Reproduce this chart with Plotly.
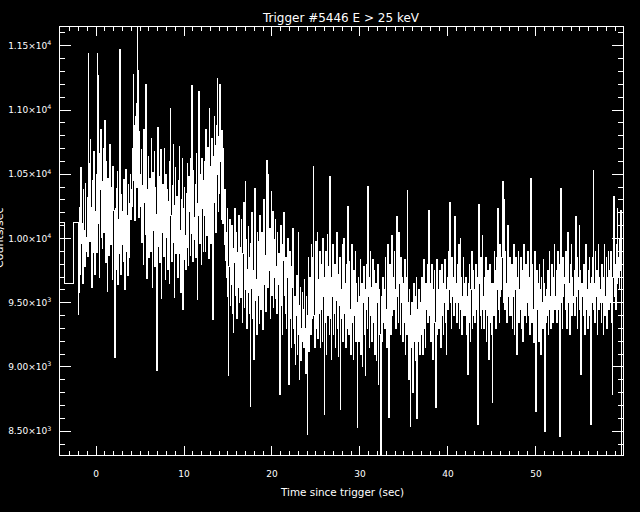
import plotly.graph_objects as go

# ---- data -------------------------------------------------------------
title_text = "Trigger #5446 E > 25 keV"
x_title = "Time since trigger (sec)"
y_title = "Counts/sec"

# pre-trigger (1.024 s) bins: start times and rates
pre_start = [-4.608, -3.584, -2.56]
pre_rates = [10128, 9649, 10125]

# 64 ms bins starting at fine_start
fine_start = -2.048
fine_dt = 0.064
rates = [
    9410, 9580, 9890, 10240, 9720, 10550, 9960, 10120, 9650, 10380, 9840, 10060, 9780, 10430, 10010, 9900,
    10320, 9860, 11437, 10090, 10580, 9980, 10770, 10240, 9620, 10450, 10110, 9890, 10680, 10300, 9720, 10210,
    10500, 9890, 11437, 11270, 10120, 10660, 9700, 10380, 10850, 10010, 10440, 9920, 10290, 10700, 10050, 10920,
    10330, 9810, 10600, 10090, 9590, 10470, 10180, 9870, 10730, 10260, 9950, 10400, 10050, 9680, 10560, 10220,
    10100, 9070, 10230, 9760, 10390, 9930, 10520, 9640, 10150, 9880, 11470, 10010, 9720, 10340, 9950, 10210,
    9820, 10460, 10090, 9600, 10330, 10540, 9900, 10180, 9710, 10420, 10050, 9850, 10270, 10500, 10150, 10380,
    10250, 10700, 11280, 10450, 10880, 10140, 10950, 11050, 10400, 11650, 11310, 10620, 10160, 10830, 10500, 10250,
    10690, 9970, 10410, 10150, 9800, 10850, 10280, 10030, 11200, 10520, 9690, 10380, 10100, 10640, 9850, 10470,
    10220, 9900, 10780, 10340, 9620, 10510, 10060, 10680, 9780, 10400, 10190, 9850, 8970, 10290, 10860, 9940,
    10480, 9810, 10310, 10690, 9530, 10050, 10420, 10250, 9860, 10700, 10120, 9680, 10500, 10010, 10380, 9760,
    10290, 10040, 9650, 10600, 11015, 10180, 9820, 10410, 9970, 10730, 10260, 9540, 10090, 10550, 9880, 10330,
    10120, 9700, 10450, 9880, 10714, 10060, 9580, 10300, 9950, 10620, 9450, 10230, 9840, 10400, 10020, 9760,
    10350, 9930, 10580, 10100, 9790, 10480, 10210, 9870, 10620, 10040, 11187, 10300, 9820, 10530, 10160, 9990,
    10420, 9850, 10660, 10270, 9529, 10180, 11143, 10390, 9960, 10500, 10080, 9800, 10620, 10230, 9900, 10450,
    10180, 10600, 9900, 10850, 10350, 10020, 10710, 10460, 9841, 11013, 10300, 10560, 9960, 10780, 10120, 9372,
    10640, 10280, 10950, 10420, 10720, 10050, 10880, 11247, 10500, 10210, 10790, 10350, 11200, 10600, 10150, 10840,
    10450, 10120, 10700, 10290, 9950, 10380, 9830, 10050, 9700, 10232, 9550, 8930, 9780, 10150, 9480, 9860,
    9640, 10100, 9420, 9920, 9268, 9810, 10232, 9560, 9700, 10050, 9380, 9890, 9620, 10180, 9500, 9780,
    9930, 9540, 10150, 9700, 9350, 9880, 10280, 9460, 9820, 10440, 9600, 9990, 9300, 9760, 10090, 9580,
    9850, 9420, 8695, 9960, 9610, 10200, 9380, 9750, 9060, 9890, 10388, 9520, 9680, 9250, 10050, 9700,
    9560, 9980, 9340, 10180, 9710, 9450, 10050, 9800, 9290, 9920, 10300, 9640, 9870, 9430, 10120, 10609,
    9890, 9620, 10500, 9750, 10080, 9380, 9950, 10362, 9560, 9840, 10210, 9460, 9990, 9700, 10150, 9530,
    9780, 9420, 10050, 9640, 9880, 9300, 8786, 9720, 10100, 9480, 9950, 9250, 9830, 10200, 9560, 9690,
    9420, 9850, 9300, 9700, 10000, 9242, 8865, 9560, 9900, 9380, 9780, 9150, 9620, 10080, 9450, 9300,
    9180, 9550, 9020, 9400, 9711, 9100, 9350, 10050, 9250, 8904, 9480, 9620, 9050, 9300, 9580, 9200,
    9450, 9150, 9680, 9300, 8950, 9550, 9200, 8474, 9400, 9850, 9120, 9500, 9700, 9250, 9950, 9380,
    9600, 9850, 10562, 9400, 9150, 9700, 9980, 9300, 9550, 10050, 9220, 9680, 9420, 9900, 9150, 9620,
    9450, 9800, 9200, 10000, 9550, 8630, 9700, 9350, 9900, 9100, 9620, 10030, 9400, 9780, 9250, 10484,
    9380, 9700, 9060, 9550, 9950, 9250, 9650, 9420, 9800, 9150, 9520, 10050, 9300, 9600, 9080, 9720,
    9480, 9850, 8670, 9600, 9380, 9950, 9200, 9700, 10000, 9420, 9650, 9150, 9800, 9550, 9300, 10250,
    9600, 9250, 9820, 9450, 9100, 9700, 9950, 9350, 9550, 9060, 9750, 9400, 9900, 9200, 9650, 9500,
    8526, 9380, 9700, 9200, 9550, 9840, 9100, 9450, 9650, 9000, 9500, 9780, 9250, 9400, 8930, 9600,
    9450, 9800, 9300, 10406, 9550, 9150, 9700, 9900, 9400, 9620, 9200, 9840, 9500, 9350, 9750, 9100,
    9300, 9650, 9050, 9500, 9800, 8865, 9400, 9600, 9250, 8200, 8260, 9550, 9200, 9700, 9350, 9500,
    9600, 9300, 9850, 9450, 9150, 9700, 9950, 9350, 8604, 9550, 9800, 9250, 9650, 10020, 9400, 9580,
    9700, 9450, 9900, 9600, 9300, 9800, 10172, 9550, 9750, 9350, 10050, 9650, 9250, 9850, 9500, 9700,
    9550, 9200, 9650, 9350, 9840, 9100, 9450, 9700, 9250, 10375, 9500, 8900, 9600, 9300, 8540, 9400,
    9150, 9500, 8800, 9400, 9650, 9200, 9550, 9050, 9300, 9700, 8600, 9450, 9200, 9600, 9350, 9100,
    9500, 9250, 9700, 9400, 9100, 9600, 9840, 9300, 9550, 9150, 9650, 9450, 9800, 9350, 9600, 10219,
    9400, 9650, 9200, 9550, 9800, 9300, 9060, 9600, 9450, 9750, 9350, 8683, 9500, 9840, 9250, 9550,
    9600, 9300, 9750, 9450, 9150, 9550, 9800, 9400, 9650, 9250, 9500, 9840, 9350, 9600, 9100, 9500,
    9700, 9450, 9900, 9600, 10284, 9500, 9750, 9300, 9850, 9550, 9700, 9400, 9950, 10172, 9600, 9500,
    9650, 9350, 9800, 9500, 9950, 9300, 9600, 10000, 9450, 9700, 9250, 9550, 9850, 9400, 9650, 9500,
    9400, 9700, 9250, 9550, 8943, 9650, 9350, 9800, 9500, 9200, 9600, 9900, 9300, 9550, 9750, 9400,
    9600, 9350, 9800, 9450, 9700, 9250, 8552, 9500, 10263, 9650, 9400, 9850, 9300, 9600, 10020, 9450,
    9550, 9300, 9700, 9450, 9850, 9200, 9600, 9400, 9750, 9060, 9550, 9800, 9350, 9650, 9250, 9500,
    8721, 9650, 9400, 9900, 9550, 9750, 9300, 9850, 9600, 10230, 9450, 9700, 9350, 9950, 9550, 9800,
    9600, 9850, 10440, 9500, 9750, 10300, 9450, 9900, 9650, 9350, 9800, 10100, 9550, 9700, 9400, 9850,
    9650, 9400, 9800, 9300, 9700, 9550, 9950, 9250, 9600, 9850, 9450, 9100, 9700, 9500, 9900, 9350,
    9600, 9450, 9850, 9300, 9750, 9550, 9200, 9700, 9950, 9400, 9600, 9800, 9350, 9650, 9500, 9900,
    9400, 9700, 9250, 9550, 10466, 9600, 9350, 9800, 9450, 9190, 9650, 9900, 9300, 8656, 9550, 9750,
    9450, 9650, 9200, 9800, 9400, 9600, 9100, 9700, 9500, 9300, 9840, 9450, 9650, 8500, 9550, 9350,
    9600, 9400, 9750, 9250, 9650, 9900, 9450, 9550, 9300, 9800, 9600, 9350, 9700, 9500, 9950, 9450,
    9550, 9750, 9350, 9650, 9900, 9450, 9600, 9800, 8461, 10388, 9500, 9700, 9300, 9850, 9550, 9650,
    9700, 9450, 9900, 9550, 9300, 9750, 10050, 9500, 9650, 9250, 9800, 9600, 9950, 9400, 9700, 9550,
    9500, 9750, 9400, 9650, 10172, 9550, 9850, 9300, 9700, 9600, 10100, 9450, 9750, 8943, 9650, 9550,
    9650, 9400, 9800, 9500, 9250, 9700, 9950, 9450, 9600, 9300, 9750, 9550, 9850, 9400, 9650, 8552,
    9700, 9500, 9850, 10531, 9450, 9650, 9350, 9900, 9550, 9750, 9250, 9600, 9950, 9450, 9700, 9500,
    9600, 9350, 9800, 9500, 9700, 9250, 9650, 9950, 9400, 9550, 9850, 9300, 9700, 9500, 9900, 9450,
    9750, 9500, 9900, 9600, 9350, 8786, 9700, 9850, 10328, 9550, 9800, 9450, 9950, 9650, 10230, 9700,
    9850, 9600, 10000, 9750, 10219,
    0,
]

x_ticks = [0, 10, 20, 30, 40, 50]
y_ticks = [8500, 9000, 9500, 10000, 10500, 11000, 11500]
y_ticktext = ["8.50×10<sup>3</sup>", "9.00×10<sup>3</sup>", "9.50×10<sup>3</sup>",
              "1.00×10<sup>4</sup>", "1.05×10<sup>4</sup>", "1.10×10<sup>4</sup>",
              "1.15×10<sup>4</sup>"]
x_range = [-4.096, 59.904]
y_range = [8315, 11646]

# ---- figure -----------------------------------------------------------
times = pre_start + [fine_start + fine_dt * i for i in range(len(rates))]
values = pre_rates + rates

FONT = "DejaVu Sans"
fig = go.Figure(go.Scatter(x=times, y=values, mode="lines",
                           line=dict(color="white", width=1, shape="hv"),
                           hoverinfo="skip"))

axis_common = dict(
    showgrid=False, zeroline=False, showline=True, linecolor="white", linewidth=1,
    mirror="allticks", ticks="inside", tickcolor="white", tickwidth=1,
    tickfont=dict(family=FONT, size=9, color="white"), automargin=False,
)
fig.update_xaxes(range=x_range, tickvals=x_ticks, ticklen=9,
                 minor=dict(dtick=1, ticks="inside", ticklen=4, tickcolor="white"),
                 ticklabelstandoff=10, **axis_common)
fig.update_yaxes(range=y_range, tickvals=y_ticks, ticktext=y_ticktext, ticklen=11,
                 minor=dict(dtick=100, ticks="inside", ticklen=5, tickcolor="white"),
                 ticklabelstandoff=6, **axis_common)

fig.update_layout(
    width=640, height=512,
    paper_bgcolor="black", plot_bgcolor="black",
    margin=dict(l=60, r=17, t=27, b=57, autoexpand=False),
    showlegend=False,
    title=dict(text=title_text, x=341 / 640, xanchor="center",
               y=1 - 18 / 512, yanchor="middle", yref="container",
               font=dict(family=FONT, size=12, color="white")),
    annotations=[
        dict(text=x_title, xref="paper", yref="paper", x=0.5, y=(455 - 492) / 428,
             xanchor="center", yanchor="middle", showarrow=False,
             font=dict(family=FONT, size=10.4, color="white")),
        dict(text=y_title, xref="paper", yref="paper", x=(-1 - 60) / 563, y=0.507,
             xanchor="center", yanchor="middle", textangle=-90, showarrow=False,
             font=dict(family=FONT, size=11, color="white")),
    ],
)

post = (
    "document.body.style.margin='0';"
    "document.body.style.background='black';"
    "var s=document.createElement('style');"
    "s.innerHTML='.scatterlayer path{shape-rendering:crispEdges}';"
    "document.head.appendChild(s);"
)
fig.write_html("out.html", post_script=post, config={"displayModeBar": False})
